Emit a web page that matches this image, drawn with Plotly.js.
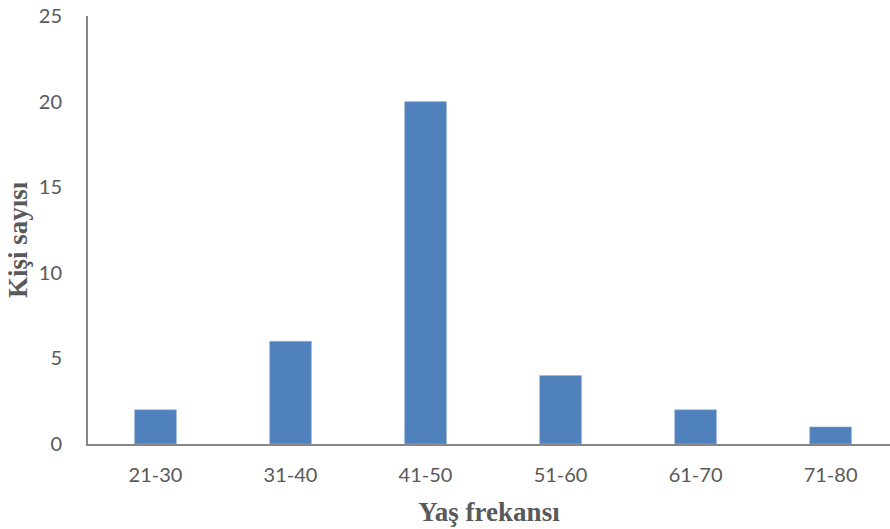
<!DOCTYPE html>
<html><head><meta charset="utf-8">
<script src="https://cdn.plot.ly/plotly-3.0.1.min.js"></script>
<style>body{margin:0;padding:0;background:#fff}#chart{width:890px;height:529px}</style>
</head><body><div id="chart"></div>
<script>
const categories = ["21-30","31-40","41-50","51-60","61-70","71-80"];
const counts = [2,6,20,4,2,1];
const yTicks = [0,5,10,15,20,25];

const trace = {
  type: 'bar', x: categories, y: counts,
  marker: {color: '#4F81BD', line: {color: '#9DB8DD', width: 0.6}},
  hoverinfo: 'x+y'
};
const tickFont = {family: 'Lato, "Open Sans", sans-serif', size: 20, color: '#595959'};
const titleFont = {family: '"Liberation Serif", "Times New Roman", serif', size: 27, color: '#595959', weight: 'bold'};
const layout = {
  width: 890, height: 529,
  margin: {l: 88, r: 0, t: 16, b: 85},
  paper_bgcolor: '#fff', plot_bgcolor: '#fff',
  showlegend: false,
  bargap: 0.69,
  xaxis: {
    type: 'category', range: [-0.5, 5.44],
    showline: true, linecolor: '#868686', linewidth: 2,
    ticks: '', showgrid: false, zeroline: false,
    tickfont: tickFont, ticklabelstandoff: 12,
    title: {text: 'Yaş frekansı', font: titleFont, standoff: 17}
  },
  yaxis: {
    range: [0, 25], tickvals: yTicks,
    showline: true, linecolor: '#868686', linewidth: 2,
    ticks: '', showgrid: false, zeroline: false,
    tickfont: tickFont, ticklabelstandoff: 20
  },
  annotations: [{
    text: 'Kişi sayısı', textangle: -90, showarrow: false,
    xref: 'paper', yref: 'paper', x: -0.0865, y: 0.478,
    xanchor: 'center', yanchor: 'middle', font: titleFont
  }]
};
Plotly.newPlot('chart', [trace], layout, {displayModeBar: false});
</script></body></html>
